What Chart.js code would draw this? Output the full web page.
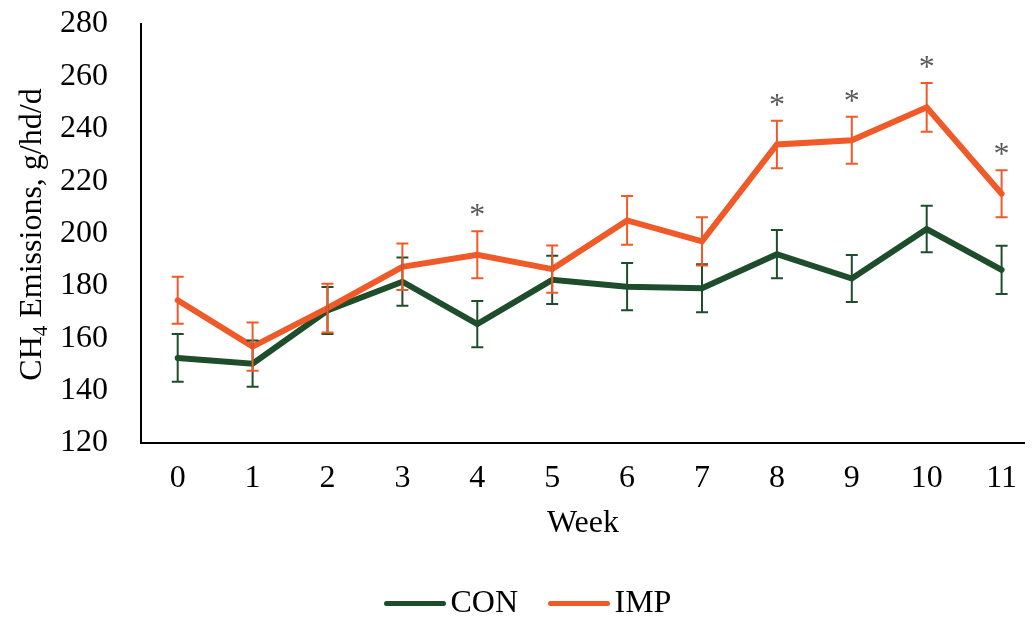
<!DOCTYPE html>
<html lang="en">

<head>
    <meta charset="UTF-8">
    <title>CH4 Emissions by Week</title>
    <script src="https://cdn.jsdelivr.net/npm/chart.js"></script>
    <style>
        body { margin: 0; background: #ffffff; }
        canvas { display: block; }
    </style>
</head>

<body>
    <canvas id="grafico" width="1033" height="619"></canvas>
</body>

</html>

<script>
    // Data
    const weeks = [0, 1, 2, 3, 4, 5, 6, 7, 8, 9, 10, 11];
    const yTicks = [120, 140, 160, 180, 200, 220, 240, 260, 280];
    const conMean = [152.5, 150.3, 170.6, 181.6, 165.4, 182.3, 179.7, 179.1, 192.1, 182.8, 201.7, 186.1];
    const conSE = [9.1, 8.8, 9.0, 9.2, 8.8, 9.2, 9.0, 9.2, 9.2, 9.0, 8.9, 9.2];
    const impMean = [174.5, 156.8, 171.5, 187.3, 191.9, 186.4, 205.0, 197.0, 234.0, 235.6, 248.2, 215.2];
    const impSE = [9.0, 9.2, 9.3, 8.9, 9.0, 9.0, 9.3, 9.2, 9.1, 9.0, 9.3, 9.0];
    const sigWeeks = [4, 8, 9, 10, 11];

    const verde = "#1e4d2b";
    const laranja = "#f05a28";
    const fonte = "'Liberation Serif', 'Times New Roman', serif";

    // Error bars, asterisks, y title and legend
    const extras = {
        id: "extras",
        afterDatasetsDraw(chart) {
            const ctx = chart.ctx;
            const y = chart.scales.y;
            ctx.save();
            chart.data.datasets.forEach((ds, d) => {
                const meta = chart.getDatasetMeta(d);
                ctx.strokeStyle = ds.borderColor;
                ctx.lineWidth = 2;
                meta.data.forEach((pt, i) => {
                    const top = y.getPixelForValue(ds.means[i] + ds.errors[i]);
                    const bot = y.getPixelForValue(ds.means[i] - ds.errors[i]);
                    ctx.beginPath();
                    ctx.moveTo(pt.x, top); ctx.lineTo(pt.x, bot);
                    ctx.moveTo(pt.x - 6, top); ctx.lineTo(pt.x + 6, top);
                    ctx.moveTo(pt.x - 6, bot); ctx.lineTo(pt.x + 6, bot);
                    ctx.stroke();
                });
            });
            // significance marks
            ctx.fillStyle = "#595959";
            ctx.font = "32px " + fonte;
            ctx.textAlign = "center";
            ctx.textBaseline = "alphabetic";
            sigWeeks.forEach(w => {
                const i = weeks.indexOf(w);
                const x = chart.scales.x.getPixelForValue(w);
                const top = y.getPixelForValue(impMean[i] + impSE[i]);
                ctx.fillText("*", x, top - 6);
            });
            ctx.restore();
        },
        afterDraw(chart) {
            const ctx = chart.ctx;
            ctx.save();
            // y axis title with subscript
            const big = "32px " + fonte;
            const small = "21px " + fonte;
            ctx.font = big;
            const w1 = ctx.measureText("CH").width;
            const w3 = ctx.measureText(" Emissions, g/hd/d").width;
            ctx.font = small;
            const w2 = ctx.measureText("4").width;
            const total = w1 + w2 + w3;
            ctx.translate(41, 234.5);
            ctx.rotate(-Math.PI / 2);
            ctx.fillStyle = "#000";
            ctx.textAlign = "left";
            ctx.textBaseline = "alphabetic";
            let x0 = -total / 2;
            ctx.font = big;
            ctx.fillText("CH", x0, 0);
            ctx.font = small;
            ctx.fillText("4", x0 + w1, 6);
            ctx.font = big;
            ctx.fillText(" Emissions, g/hd/d", x0 + w1 + w2, 0);
            ctx.restore();

            // legend
            ctx.save();
            ctx.lineWidth = 5;
            ctx.lineCap = "round";
            ctx.font = big;
            ctx.fillStyle = "#000";
            ctx.textBaseline = "middle";
            ctx.textAlign = "left";
            const itens = [
                { txt: chart.data.datasets[0].label, cor: verde, x: 386.5 },
                { txt: chart.data.datasets[1].label, cor: laranja, x: 550.5 }
            ];
            itens.forEach(it => {
                ctx.strokeStyle = it.cor;
                ctx.beginPath();
                ctx.moveTo(it.x, 603.5);
                ctx.lineTo(it.x + 57, 603.5);
                ctx.stroke();
                ctx.fillText(it.txt, it.x + 64, 604);
            });
            ctx.restore();
        }
    };

    const ctx = document.getElementById("grafico").getContext("2d");

    new Chart(ctx, {
        type: "line",
        data: {
            datasets: [
                {
                    label: "CON",
                    data: weeks.map((w, i) => ({ x: w, y: conMean[i] })),
                    means: conMean,
                    errors: conSE,
                    borderColor: verde,
                    backgroundColor: verde,
                    borderWidth: 6,
                    pointRadius: 0,
                    tension: 0,
                    borderCapStyle: "round",
                    order: 1
                },
                {
                    label: "IMP",
                    data: weeks.map((w, i) => ({ x: w, y: impMean[i] })),
                    means: impMean,
                    errors: impSE,
                    borderColor: laranja,
                    backgroundColor: laranja,
                    borderWidth: 6,
                    pointRadius: 0,
                    tension: 0,
                    borderCapStyle: "round",
                    order: 0
                }
            ]
        },
        options: {
            responsive: false,
            animation: false,
            layout: { padding: { top: 24, left: 0, right: 0, bottom: 76 } },
            plugins: {
                legend: { display: false },
                tooltip: { enabled: false }
            },
            scales: {
                x: {
                    type: "linear",
                    min: -0.49,
                    max: 11.31,
                    grid: { display: false, drawTicks: false },
                    border: { display: true, color: "#000", width: 2 },
                    afterBuildTicks: s => { s.ticks = weeks.map(w => ({ value: w })); },
                    afterFit: s => { s.height = 100; },
                    ticks: {
                        color: "#000",
                        padding: 16,
                        maxRotation: 0,
                        font: { family: fonte, size: 32 }
                    },
                    title: {
                        display: true,
                        text: "Week",
                        color: "#000",
                        padding: 0,
                        font: { family: fonte, size: 32 }
                    }
                },
                y: {
                    min: 120,
                    max: 280,
                    grid: { display: false, drawTicks: false },
                    border: { display: true, color: "#000", width: 2 },
                    afterBuildTicks: s => { s.ticks = yTicks.map(v => ({ value: v })); },
                    afterFit: s => { s.width = 141; s.paddingTop = 0; s.paddingBottom = 0; },
                    ticks: {
                        color: "#000",
                        padding: 33,
                        font: { family: fonte, size: 32 }
                    }
                }
            }
        },
        plugins: [extras]
    });
</script>
